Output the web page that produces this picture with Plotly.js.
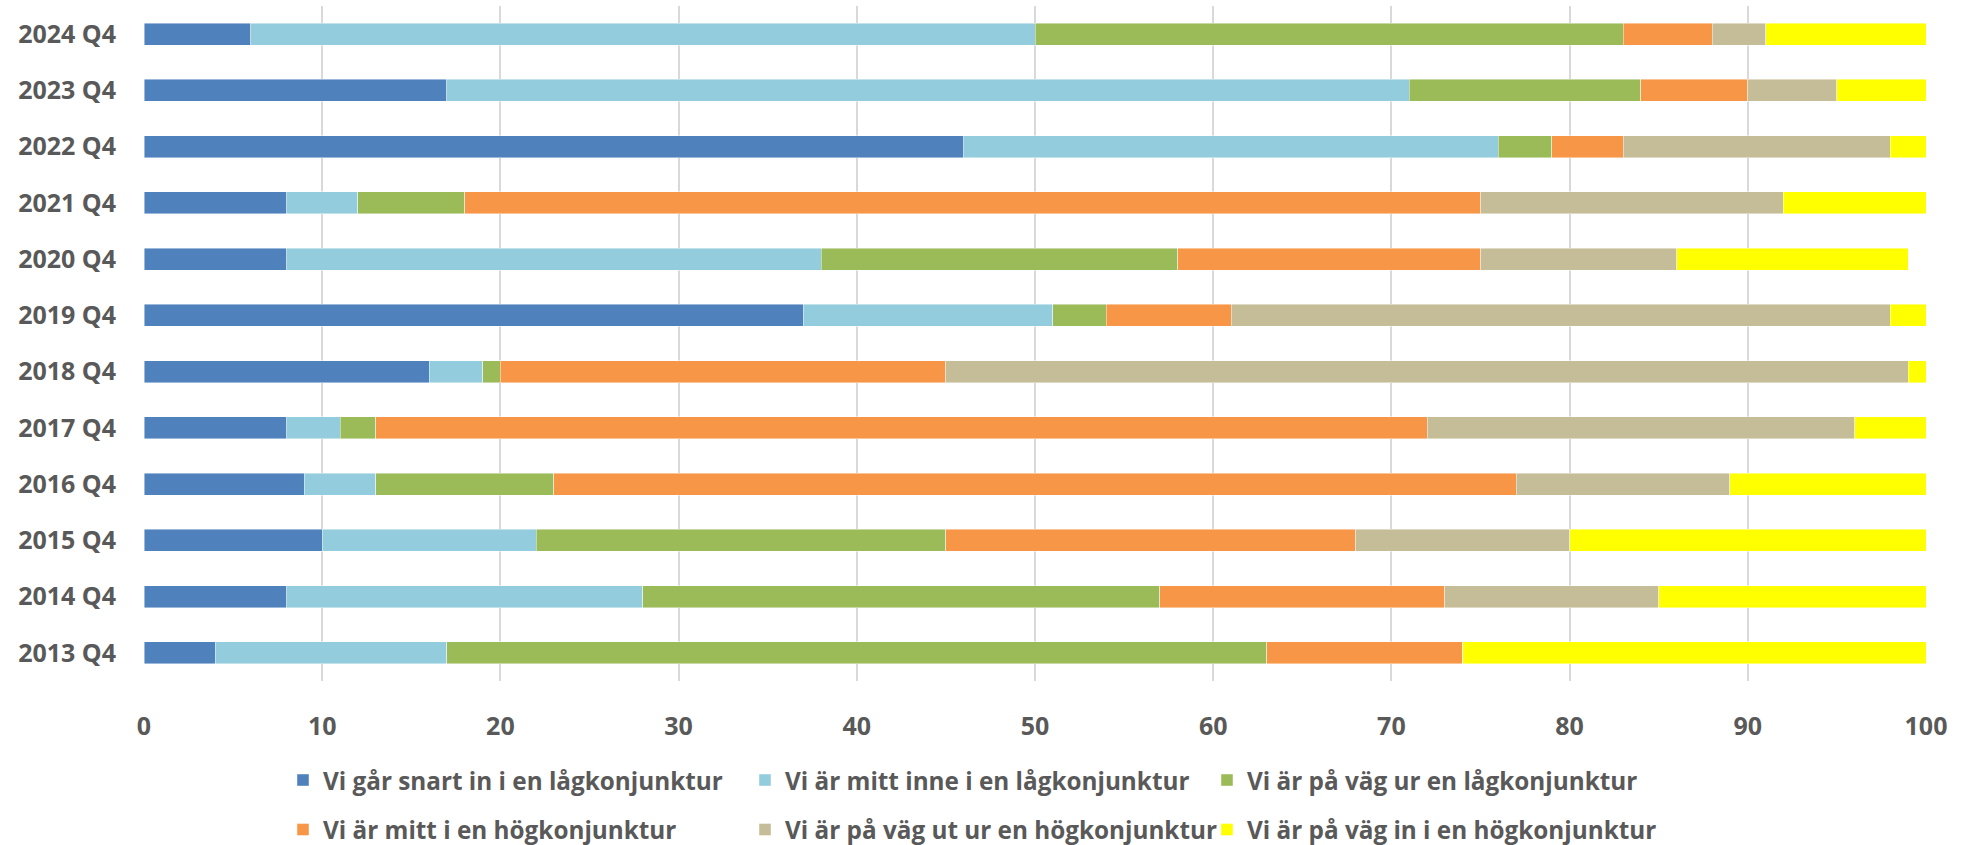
<!DOCTYPE html>
<html>
<head>
<meta charset="utf-8">
<script src="https://cdn.plot.ly/plotly-3.0.1.min.js"></script>
<style>html,body{margin:0;padding:0;background:#fff;}#chart{width:1975px;height:845px;}</style>
</head>
<body>
<div id="chart"></div>
<script>
const categories = ['2013 Q4','2014 Q4','2015 Q4','2016 Q4','2017 Q4','2018 Q4','2019 Q4','2020 Q4','2021 Q4','2022 Q4','2023 Q4','2024 Q4'];

const seriesNames = [
  'Vi går snart in i en lågkonjunktur',
  'Vi är mitt inne i en lågkonjunktur',
  'Vi är på väg ur en lågkonjunktur',
  'Vi är mitt i en högkonjunktur',
  'Vi är på väg ut ur en högkonjunktur',
  'Vi är på väg in i en högkonjunktur'
];

const snartIn   = [4, 8, 10, 9, 8, 16, 37, 8, 8, 46, 17, 6];
const mittInne  = [13, 20, 12, 4, 3, 3, 14, 30, 4, 30, 54, 44];
const vagUr     = [46, 29, 23, 10, 2, 1, 3, 20, 6, 3, 13, 33];
const mittHog   = [11, 16, 23, 54, 59, 25, 7, 17, 57, 4, 6, 5];
const vagUtHog  = [0, 12, 12, 12, 24, 54, 37, 11, 17, 15, 5, 3];
const vagInHog  = [26, 15, 20, 11, 4, 1, 2, 13, 8, 2, 5, 9];

const seriesValues = [snartIn, mittInne, vagUr, mittHog, vagUtHog, vagInHog];
const colors = ['#4F81BD', '#93CDDD', '#9BBB59', '#F79646', '#C4BD97', '#FFFF00'];
const xTicks = [0, 10, 20, 30, 40, 50, 60, 70, 80, 90, 100];

const FONT = 'Open Sans, Liberation Sans, sans-serif';
const TXT = '#595959';

const traces = seriesValues.map((vals, i) => ({
  type: 'bar',
  orientation: 'h',
  name: seriesNames[i],
  y: categories,
  x: vals,
  marker: { color: colors[i], line: { width: 0.8, color: 'rgba(255,255,255,0.55)' } },
  legend: i < 3 ? 'legend' : 'legend2',
  hoverinfo: 'x+name'
}));

const legendBase = {
  orientation: 'h',
  xanchor: 'left',
  yanchor: 'middle',
  x: 0.078,
  entrywidth: 417,
  entrywidthmode: 'pixels',
  font: { family: FONT, size: 24.3, color: TXT, weight: 700 },
  bgcolor: 'rgba(0,0,0,0)',
  traceorder: 'normal'
};

const layout = {
  width: 1975,
  height: 845,
  margin: { l: 144, r: 49, t: 6, b: 164, autoexpand: false },
  paper_bgcolor: '#ffffff',
  plot_bgcolor: '#ffffff',
  barmode: 'stack',
  bargap: 0.61,
  showlegend: true,
  legend: Object.assign({}, legendBase, { y: -0.147 }),
  legend2: Object.assign({}, legendBase, { y: -0.2204 }),
  xaxis: {
    range: [0, 100],
    tickvals: xTicks,
    ticktext: xTicks.map(String),
    showgrid: true,
    gridcolor: '#d9d9d9',
    gridwidth: 2,
    zeroline: false,
    showline: false,
    ticks: '',
    ticklabelstandoff: 28,
    tickfont: { family: FONT, size: 25, color: TXT, weight: 700 },
    fixedrange: true
  },
  yaxis: {
    type: 'category',
    categoryorder: 'array',
    categoryarray: categories,
    showgrid: false,
    zeroline: false,
    showline: false,
    ticks: '',
    ticklabelstandoff: 27,
    tickfont: { family: FONT, size: 25, color: TXT, weight: 700 },
    fixedrange: true
  }
};

Plotly.newPlot('chart', traces, layout, { displayModeBar: false, staticPlot: true });
</script>
</body>
</html>
